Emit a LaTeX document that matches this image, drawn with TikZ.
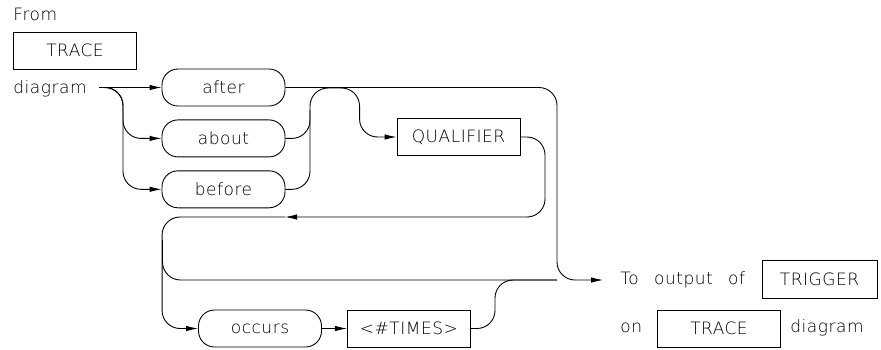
\documentclass[tikz,border=0pt]{standalone}
\usepackage{fontspec}
\setmainfont{DejaVu Sans ExtraLight}[LetterSpace=3]
\usetikzlibrary{arrows.meta,positioning}

\begin{document}
\begin{tikzpicture}[x=1pt,y=-1pt,line width=0.9pt,every node/.style={font=\fontsize{17}{20}\selectfont}]
\tikzset{kw/.style={draw,rounded corners=16pt,minimum width=123pt,minimum height=37pt,inner sep=0pt},
  prm/.style={draw,minimum width=123pt,minimum height=37pt,inner sep=0pt},
  txt/.style={anchor=west,inner sep=0pt},
  conn/.style={rounded corners=18pt},
  tip/.style={-{Latex[length=12pt,width=5.5pt]}}}
\useasboundingbox (0,0) rectangle (881,349);
% left side
\node[txt] (from) at (13,14) {From};
\node[prm] (trtop) at (75,50.5) {TRACE};
\node[txt] (diag) at (13,89) {diagram};
\node[kw] (after) at (223.5,87.5) {after};
\node[kw,below=13pt of after] (abo) {about};
\node[kw,below=13pt of abo] (bef) {before};
\node[prm] (qual) at (458.5,137) {QUALIFIER};
\node[kw] (occ) at (260,328.5) {occurs};
\node[prm,right=25pt of occ] (times) {<\#TIMES>};
% right side
\node[anchor=west,inner xsep=17pt,inner ysep=0pt] (toout) at (603,280) {To\hspace{0.9em}output\hspace{0.9em}of};
\node[prm,minimum width=115pt,minimum height=38pt] (trig) at (819.5,279.5) {TRIGGER};
\node[txt] (on) at (620,328) {on};
\node[prm] (trbot) at (719,328.5) {TRACE};
\node[txt] (diag2) at (790,328) {diagram};
% junction points
\coordinate (entry) at (99,87.5);
\coordinate (brk) at (123,87.5);
\coordinate (hl) at (310,88);
\coordinate (qr) at (545,217);
\coordinate (ret) at (285,217);
\coordinate (byp) at (162.5,240);
\coordinate (rcol) at ([xshift=-46pt]toout.west);
\coordinate (mcol) at ([xshift=-62pt]rcol);
\coordinate (lcol) at ([xshift=-36pt]occ.west);
% connectors
\draw[tip] (entry) -- (after.west);
\foreach \b in {abo,bef}{
  \draw[conn,tip] (entry) -- (brk) |- (\b.west);
}
\draw[conn,tip] (after.east) -| (rcol) -- (toout.west);
\draw[conn] (abo.east) -| ([yshift=-22pt]hl);
\draw[conn,tip] (bef.east) -| (hl) -| ([xshift=-37pt]qual.west) -- (qual.west);
\draw[conn,tip] (qual.east) -| (qr) -- (ret);
\draw[conn,tip] (ret) -| (lcol) -- (occ.west);
\draw[conn] (byp) |- (rcol);
\draw[tip] (occ.east) -- (times.west);
\draw[conn] (times.east) -| (mcol) -- (rcol);
\end{tikzpicture}
\end{document}
